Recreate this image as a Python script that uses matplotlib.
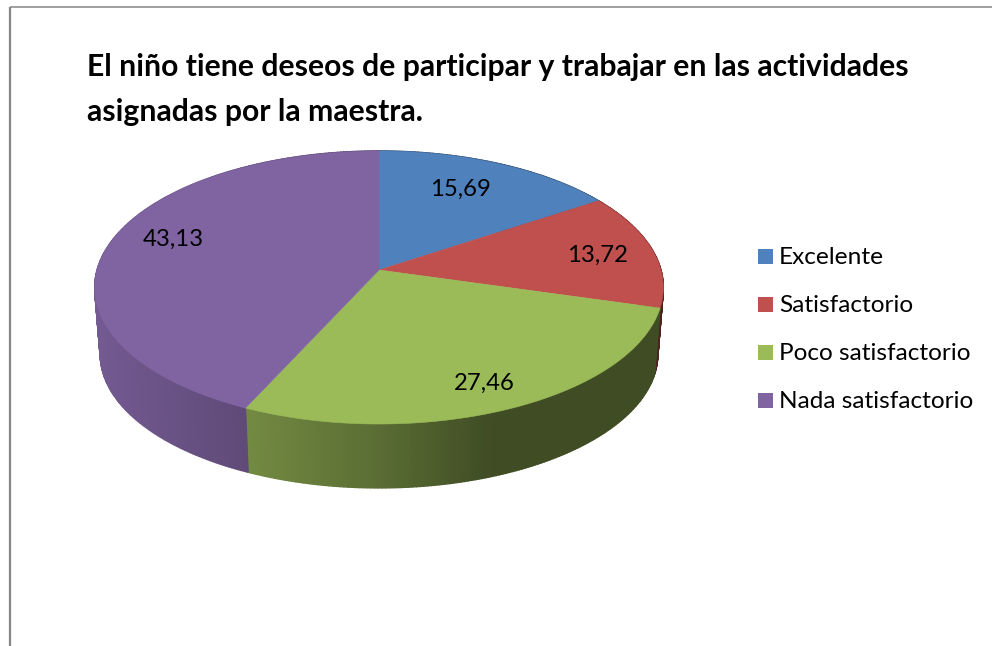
import numpy as np
import matplotlib.pyplot as plt
from matplotlib.colors import to_rgb
from matplotlib.patches import Polygon, Rectangle

plot_fname = "out.png"

categories = ["Excelente", "Satisfactorio", "Poco satisfactorio", "Nada satisfactorio"]
values = [15.69, 13.72, 27.46, 43.13]
colors = ["#4F81BD", "#C0504D", "#9BBB59", "#8064A2"]

plt.rcParams['font.family'] = ['Lato', 'DejaVu Sans']

# pixel coordinates, same as the reference
fig = plt.figure(figsize=(9.92, 6.46), dpi=100)
ax = fig.add_axes([0, 0, 1, 1])
ax.set_xlim(0, 992)
ax.set_ylim(646, 0)
ax.axis("off")

# frame, only top and left are visible
ax.plot([9.5, 992], [6.5, 6.5], color="#868686", lw=1.1, solid_capstyle="butt")
ax.plot([9.5, 9.5], [6.5, 646], color="#868686", lw=1.6, solid_capstyle="butt")

ax.text(87, 76, "El niño tiene deseos de participar y trabajar en las actividades",
        fontsize=21.7, fontweight="bold", color="black", va="baseline")
ax.text(87, 121, "asignadas por la maestra.",
        fontsize=21.7, fontweight="bold", color="black", va="baseline")

# perspective of the pie plane
k = 0.128
cx = 379


def project(theta, a, b, cy):
    u = np.sin(theta)
    v = np.cos(theta)
    d = 1 + k * v
    return cx + a * u / d, cy - b * v / d


def top(theta):
    return project(theta, 282.0, 134.3, 270)


def bottom(theta):
    return project(theta, 276.5, 131.6, 337)


def shade(color, x):
    f = np.interp(x, [93, 245, 380, 490, 670], [0.90, 0.74, 0.58, 0.41, 0.41])
    return tuple(np.array(to_rgb(color)) * f)


total = sum(values)
edges = 2 * np.pi * np.cumsum([0] + values) / total

# side wall first, the top faces cover its back part
for i in range(len(values)):
    thetas = np.arange(edges[i], edges[i + 1], 0.012)
    thetas = np.append(thetas, edges[i + 1])
    for j in range(len(thetas) - 1):
        x1, y1 = top(thetas[j])
        x2, y2 = top(thetas[j + 1])
        x3, y3 = bottom(thetas[j + 1])
        x4, y4 = bottom(thetas[j])
        c = shade(colors[i], (x1 + x2) / 2)
        ax.add_patch(Polygon([(x1, y1), (x2, y2), (x3, y3), (x4, y4)],
                             facecolor=c, edgecolor=c, lw=1.0))

for i in range(len(values)):
    thetas = np.linspace(edges[i], edges[i + 1], 200)
    xs, ys = top(thetas)
    pts = [(cx, 270)] + list(zip(xs, ys))
    ax.add_patch(Polygon(pts, facecolor=colors[i], edgecolor=colors[i], lw=0.4))

# data labels
label_x = [460, 598, 484, 173]
label_y = [189, 255, 383, 239]
for i in range(len(values)):
    ax.text(label_x[i], label_y[i], f"{values[i]:.2f}".replace(".", ","),
            fontsize=17.2, color="black", ha="center", va="center")

# legend
legend_y = [256.5, 304.5, 352.5, 400.5]
for i in range(len(categories)):
    ax.add_patch(Rectangle((758, legend_y[i] - 7.5), 15, 15, facecolor=colors[i], edgecolor="none"))
    ax.text(779, legend_y[i] + 7, categories[i], fontsize=17.6, color="black", va="baseline")

plt.savefig(plot_fname, dpi=100)
